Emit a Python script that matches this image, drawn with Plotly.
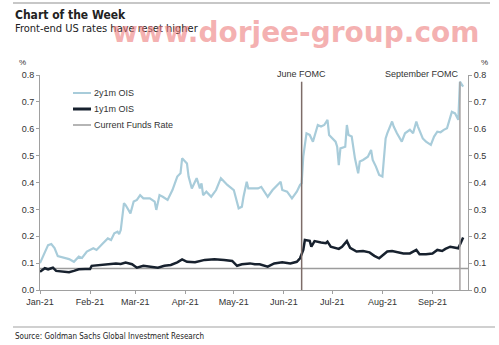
import plotly.graph_objects as go

# 2y1m OIS (%)
ois2_dates = [
    "2021-01-01", "2021-01-06", "2021-01-08", "2021-01-10", "2021-01-12", "2021-01-16",
    "2021-01-19", "2021-01-22", "2021-01-25", "2021-01-27", "2021-01-30", "2021-02-03",
    "2021-02-05", "2021-02-09", "2021-02-12", "2021-02-14", "2021-02-16", "2021-02-18",
    "2021-02-19", "2021-02-20", "2021-02-22", "2021-02-23", "2021-02-26", "2021-02-28",
    "2021-03-02", "2021-03-04", "2021-03-06", "2021-03-10", "2021-03-13", "2021-03-14",
    "2021-03-16", "2021-03-18", "2021-03-21", "2021-03-24", "2021-03-27", "2021-03-29",
    "2021-03-30", "2021-03-31", "2021-04-02", "2021-04-03", "2021-04-05", "2021-04-08",
    "2021-04-10", "2021-04-11", "2021-04-12", "2021-04-14", "2021-04-17", "2021-04-20",
    "2021-04-23", "2021-04-27", "2021-05-01", "2021-05-04", "2021-05-06", "2021-05-07",
    "2021-05-09", "2021-05-10", "2021-05-16", "2021-05-18", "2021-05-22", "2021-05-25",
    "2021-05-30", "2021-05-31", "2021-06-03", "2021-06-06", "2021-06-09", "2021-06-11",
    "2021-06-12", "2021-06-13", "2021-06-15", "2021-06-17", "2021-06-19", "2021-06-22",
    "2021-06-24", "2021-06-26", "2021-06-28", "2021-06-29", "2021-07-03", "2021-07-04",
    "2021-07-05", "2021-07-06", "2021-07-09", "2021-07-10", "2021-07-11", "2021-07-13",
    "2021-07-15", "2021-07-17", "2021-07-18", "2021-07-20", "2021-07-22", "2021-07-23",
    "2021-07-25", "2021-07-26", "2021-07-28", "2021-07-30", "2021-08-01", "2021-08-03",
    "2021-08-04", "2021-08-07", "2021-08-08", "2021-08-10", "2021-08-13", "2021-08-15",
    "2021-08-18", "2021-08-20", "2021-08-22", "2021-08-23", "2021-08-26", "2021-08-28",
    "2021-08-31", "2021-09-02", "2021-09-04", "2021-09-06", "2021-09-08", "2021-09-10",
    "2021-09-13", "2021-09-15", "2021-09-17", "2021-09-18", "2021-09-20",
]
ois2_values = [
    0.100, 0.167, 0.171, 0.156, 0.126, 0.119,
    0.115, 0.105, 0.124, 0.119, 0.143, 0.155,
    0.149, 0.174, 0.192, 0.186, 0.211, 0.217,
    0.208, 0.223, 0.323, 0.316, 0.285, 0.329,
    0.335, 0.353, 0.341, 0.341, 0.329, 0.298,
    0.353, 0.347, 0.335, 0.372, 0.422, 0.434,
    0.490, 0.484, 0.471, 0.422, 0.378, 0.416,
    0.378, 0.397, 0.353, 0.366, 0.347, 0.372,
    0.416, 0.391, 0.372, 0.304, 0.310, 0.347,
    0.403, 0.378, 0.378, 0.384, 0.347, 0.372,
    0.403, 0.372, 0.366, 0.341, 0.366, 0.391,
    0.397, 0.496, 0.583, 0.577, 0.552, 0.614,
    0.608, 0.614, 0.633, 0.577, 0.552, 0.533,
    0.465, 0.527, 0.533, 0.614, 0.577, 0.571,
    0.490, 0.434, 0.478, 0.484, 0.490, 0.496,
    0.521, 0.484, 0.459, 0.428, 0.422, 0.564,
    0.583, 0.627, 0.608, 0.583, 0.552, 0.583,
    0.596, 0.583, 0.627, 0.608, 0.564, 0.552,
    0.540, 0.571, 0.589, 0.587, 0.596, 0.602,
    0.663, 0.657, 0.633, 0.775, 0.757,
]

# 1y1m OIS (%)
ois1_dates = [
    "2021-01-01", "2021-01-04", "2021-01-06", "2021-01-09", "2021-01-11", "2021-01-15",
    "2021-01-19", "2021-01-22", "2021-01-25", "2021-01-29", "2021-02-01", "2021-02-02",
    "2021-02-07", "2021-02-12", "2021-02-17", "2021-02-20", "2021-02-23", "2021-02-27",
    "2021-03-02", "2021-03-06", "2021-03-11", "2021-03-15", "2021-03-19", "2021-03-23",
    "2021-03-27", "2021-03-30", "2021-04-02", "2021-04-07", "2021-04-13", "2021-04-19",
    "2021-04-25", "2021-04-30", "2021-05-03", "2021-05-06", "2021-05-11", "2021-05-14",
    "2021-05-17", "2021-05-22", "2021-05-26", "2021-05-31", "2021-06-05", "2021-06-09",
    "2021-06-11", "2021-06-13", "2021-06-14", "2021-06-17", "2021-06-18", "2021-06-20",
    "2021-06-24", "2021-06-27", "2021-06-28", "2021-06-30", "2021-07-05", "2021-07-07",
    "2021-07-10", "2021-07-12", "2021-07-16", "2021-07-20", "2021-07-24", "2021-07-27",
    "2021-07-30", "2021-08-02", "2021-08-04", "2021-08-07", "2021-08-10", "2021-08-14",
    "2021-08-18", "2021-08-22", "2021-08-24", "2021-08-28", "2021-09-01", "2021-09-04",
    "2021-09-07", "2021-09-09", "2021-09-12", "2021-09-15", "2021-09-17", "2021-09-20",
]
ois1_values = [
    0.068, 0.081, 0.077, 0.083, 0.071, 0.068,
    0.066, 0.071, 0.077, 0.078, 0.078, 0.090,
    0.093, 0.096, 0.099, 0.097, 0.102, 0.096,
    0.083, 0.090, 0.087, 0.083, 0.090, 0.093,
    0.103, 0.114, 0.105, 0.103, 0.112, 0.114,
    0.112, 0.108, 0.090, 0.096, 0.099, 0.096,
    0.096, 0.087, 0.099, 0.103, 0.099, 0.105,
    0.118, 0.149, 0.186, 0.183, 0.161, 0.182,
    0.177, 0.174, 0.180, 0.161, 0.153, 0.161,
    0.182, 0.157, 0.143, 0.145, 0.140, 0.127,
    0.118, 0.133, 0.143, 0.145, 0.140, 0.136,
    0.136, 0.149, 0.133, 0.133, 0.136, 0.149,
    0.145, 0.153, 0.161, 0.157, 0.155, 0.195,
]

# Current funds rate (%)
funds_dates = ["2021-01-01", "2021-09-23"]
funds_values = [0.08, 0.08]

# FOMC meetings marked on the chart
fomc_dates = ["2021-06-12", "2021-09-18"]
fomc_labels = ["June FOMC", "September FOMC"]

month_ticks = ["2021-01-01", "2021-02-01", "2021-03-01", "2021-04-01", "2021-05-01",
               "2021-06-01", "2021-07-01", "2021-08-01", "2021-09-01"]
month_labels = ["Jan-21", "Feb-21", "Mar-21", "Apr-21", "May-21",
                "Jun-21", "Jul-21", "Aug-21", "Sep-21"]
y_ticks = [0.0, 0.1, 0.2, 0.3, 0.4, 0.5, 0.6, 0.7, 0.8]

W, H = 499, 345
L, R, T, B = 40, 468, 75, 290

LIGHT = "#a8ccda"
DARK = "#17212e"
FUNDS = "#9c9c9c"
TEXT = "#333333"
FONT = "Liberation Sans, Arial, sans-serif"
NARROW = "Liberation Sans Narrow, DejaVu Sans Condensed, Arial Narrow, sans-serif"


def px(x):
    return (x - L) / (R - L)


def py(y):
    return (B - y) / (B - T)


fig = go.Figure()
fig.add_trace(go.Scatter(x=ois2_dates, y=ois2_values, mode="lines", name="2y1m OIS",
                         line=dict(color=LIGHT, width=2.2)))
fig.add_trace(go.Scatter(x=funds_dates, y=funds_values, mode="lines", name="Current Funds Rate",
                         line=dict(color=FUNDS, width=1.5)))
fig.add_trace(go.Scatter(x=ois1_dates, y=ois1_values, mode="lines", name="1y1m OIS",
                         line=dict(color=DARK, width=2.5)))
# invisible trace carrying the right-hand axis
fig.add_trace(go.Scatter(x=funds_dates, y=funds_values, yaxis="y2", mode="lines",
                         line=dict(width=0), hoverinfo="skip", showlegend=False, opacity=0))

shapes = []
annotations = []

# FOMC markers
fomc_colors = ["#7d6c68", "#a7a2a2"]
for d, lab, col, anchor, shift in zip(fomc_dates, fomc_labels, fomc_colors,
                                      ["center", "right"], [0, 1]):
    shapes.append(dict(type="line", xref="x", yref="y", x0=d, x1=d, y0=0, y1=0.775,
                       line=dict(color=col, width=1.5)))
    annotations.append(dict(xref="x", yref="paper", x=d, y=py(74), text=lab, showarrow=False,
                            xanchor=anchor, yanchor="middle", xshift=shift,
                            font=dict(family=FONT, size=9, color=TEXT)))

# legend drawn inside the plot area
legend_items = [("2y1m OIS", LIGHT, 2), ("1y1m OIS", DARK, 3), ("Current Funds Rate", FUNDS, 1.5)]
for i, (name, col, w) in enumerate(legend_items):
    yy = 93 + i * 16
    shapes.append(dict(type="line", xref="paper", yref="paper", x0=px(73), x1=px(91),
                       y0=py(yy), y1=py(yy), line=dict(color=col, width=w)))
    annotations.append(dict(xref="paper", yref="paper", x=px(92), y=py(yy), text=name,
                            showarrow=False, xanchor="left", yanchor="middle",
                            font=dict(family=FONT, size=9, color=TEXT)))

# "%" unit labels
annotations.append(dict(xref="paper", yref="paper", x=px(22), y=py(62), text="%",
                        showarrow=False, xanchor="center", yanchor="middle",
                        font=dict(family=FONT, size=8, color=TEXT)))
annotations.append(dict(xref="paper", yref="paper", x=px(485), y=py(62), text="%",
                        showarrow=False, xanchor="center", yanchor="middle",
                        font=dict(family=FONT, size=8, color=TEXT)))

# header and footer
shapes.append(dict(type="line", xref="paper", yref="paper", x0=px(13), x1=px(490),
                   y0=py(3), y1=py(3), line=dict(color="#b5b5b5", width=1.5)))
shapes.append(dict(type="line", xref="paper", yref="paper", x0=px(13), x1=px(495),
                   y0=py(327), y1=py(327), line=dict(color="#c0c0c0", width=1.5)))
annotations.append(dict(xref="paper", yref="paper", x=px(13), y=py(15), text="<b>Chart of the Week</b>",
                        showarrow=False, xanchor="left", yanchor="middle",
                        font=dict(family=NARROW, size=12, color="#222222")))
annotations.append(dict(xref="paper", yref="paper", x=px(13), y=py(28),
                        text="Front-end US rates have reset higher",
                        showarrow=False, xanchor="left", yanchor="middle",
                        font=dict(family=NARROW, size=11, color="#222222")))
annotations.append(dict(xref="paper", yref="paper", x=px(295), y=py(33),
                        text="<b>www.dorjee-group.com</b>",
                        showarrow=False, xanchor="center", yanchor="middle",
                        font=dict(family="DejaVu Sans, sans-serif", size=28,
                                  color="rgba(238,125,125,0.6)")))
annotations.append(dict(xref="paper", yref="paper", x=px(13), y=py(336),
                        text="Source: Goldman Sachs Global Investment Research",
                        showarrow=False, xanchor="left", yanchor="middle",
                        font=dict(family=NARROW, size=8, color="#222222")))

axis_font = dict(family=FONT, size=9, color=TEXT)
fig.update_layout(
    width=W, height=H,
    margin=dict(l=L, r=W - R, t=T, b=H - B, pad=0),
    paper_bgcolor="white", plot_bgcolor="white",
    showlegend=False,
    shapes=shapes, annotations=annotations,
    xaxis=dict(type="date", range=["2021-01-01", "2021-09-23"],
               tickvals=month_ticks, ticktext=month_labels,
               showgrid=False, zeroline=False, showline=True, linecolor="#a0a0a0", linewidth=1,
               ticks="outside", ticklen=3, tickcolor="#a0a0a0", tickfont=axis_font),
    yaxis=dict(range=[0, 0.8], tickvals=y_ticks, tickformat=".1f",
               showgrid=False, zeroline=False, showline=True, linecolor="#a0a0a0", linewidth=1,
               ticks="outside", ticklen=3, tickcolor="#a0a0a0", tickfont=axis_font),
    yaxis2=dict(range=[0, 0.8], tickvals=y_ticks, tickformat=".1f", overlaying="y", side="right",
                showgrid=False, zeroline=False, showline=True, linecolor="#a0a0a0", linewidth=1,
                ticks="outside", ticklen=3, tickcolor="#a0a0a0", tickfont=axis_font),
)

fig.write_html("out.html")
